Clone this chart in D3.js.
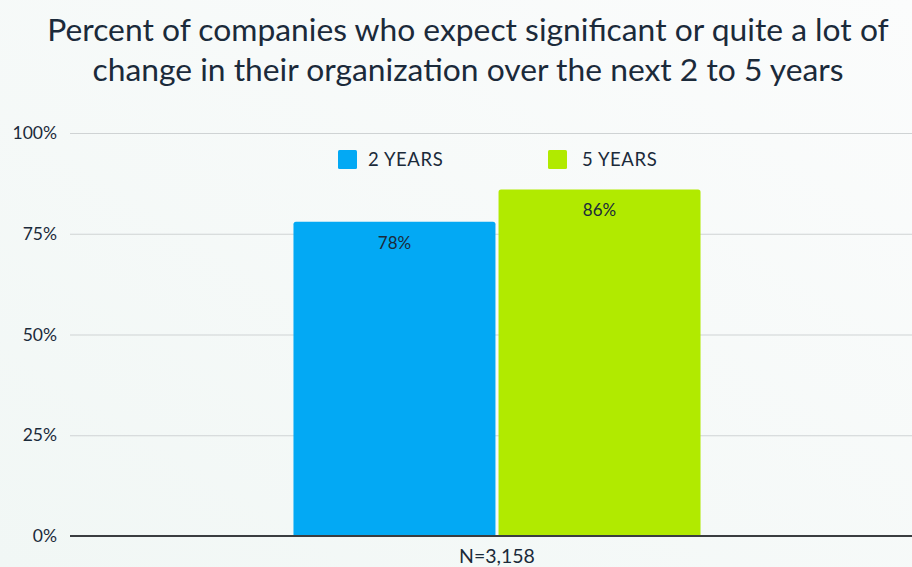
<!DOCTYPE html>
<html>
<head>
<meta charset="utf-8">
<script src="https://cdn.jsdelivr.net/npm/d3@7"></script>
<style>
  html, body { margin: 0; padding: 0; }
  body { width: 912px; height: 567px; overflow: hidden; }
  svg { display: block; font-family: Lato, "Open Sans", sans-serif; }
</style>
</head>
<body>
<svg id="chart" width="912" height="567"></svg>
<script>
// Chart data
const categories = ["N=3,158"];
const seriesNames = ["2 YEARS", "5 YEARS"];
const seriesValues = [[78], [86]];   // percent, per series, per category
const seriesColors = ["#03a9f4", "#b1ea00"];
const yTicks = [0, 25, 50, 75, 100];
const titleLines = [
  "Percent of companies who expect significant or quite a lot of",
  "change in their organization over the next 2 to 5 years"
];

const W = 912, H = 567;
const margin = { left: 70, right: -12, top: 133, bottom: 31 };
const textColor = "#1b2a3a";

const svg = d3.select("#chart");

// soft background wash
const defs = svg.append("defs");
const grad = defs.append("linearGradient").attr("id", "bg").attr("x1", 0).attr("y1", 1).attr("x2", 1).attr("y2", 0);
grad.append("stop").attr("offset", "0%").attr("stop-color", "#f1f7f5");
grad.append("stop").attr("offset", "100%").attr("stop-color", "#fbfcfc");
svg.append("rect").attr("width", W).attr("height", H).attr("fill", "url(#bg)");

// title
svg.append("g").selectAll("text").data(titleLines).join("text")
  .attr("x", 468).attr("y", (d, i) => 41 + i * 40)
  .attr("text-anchor", "middle")
  .attr("font-size", 31.8).attr("font-weight", 400)
  .attr("fill", textColor)
  .text(d => d);

const x0 = d3.scaleBand().domain(categories)
  .range([margin.left, W - margin.right]).paddingInner(0).paddingOuter(0.549);
const x1 = d3.scaleBand().domain(seriesNames.map((d, i) => i))
  .range([0, x0.bandwidth()]).paddingInner(0.015);
const y = d3.scaleLinear().domain([0, 100]).range([H - margin.bottom, margin.top]);

// gridlines + y labels
const yAxis = d3.axisLeft(y).tickValues(yTicks).tickFormat(d => d + "%")
  .tickSize(-(W - margin.left)).tickPadding(13);
const ga = svg.append("g").attr("transform", `translate(${margin.left},0)`).call(yAxis);
ga.select(".domain").remove();
ga.selectAll(".tick line").attr("stroke", "#cfd3d4").attr("stroke-width", 1);
ga.selectAll(".tick text").attr("fill", textColor).attr("font-size", 17.5)
  .attr("font-family", "Lato, sans-serif");

// bars
const groups = svg.append("g").selectAll("g").data(categories).join("g")
  .attr("transform", d => `translate(${x0(d)},0)`);
groups.each(function(cat, ci) {
  const g = d3.select(this);
  seriesNames.forEach((s, si) => {
    const v = seriesValues[si][ci];
    g.append("path")
      .attr("d", () => {
        const bx = x1(si), bw = x1.bandwidth(), by = y(v), bh = y(0) - y(v), r = 2.5;
        return `M${bx},${by + bh}V${by + r}Q${bx},${by} ${bx + r},${by}H${bx + bw - r}Q${bx + bw},${by} ${bx + bw},${by + r}V${by + bh}Z`;
      })
      .attr("fill", seriesColors[si]);
    g.append("text")
      .attr("x", x1(si) + x1.bandwidth() / 2)
      .attr("y", y(v) + 27)
      .attr("text-anchor", "middle")
      .attr("font-size", 17)
      .attr("fill", textColor)
      .text(v + "%");
  });
});

// baseline
svg.append("line")
  .attr("x1", margin.left).attr("x2", W)
  .attr("y1", y(0)).attr("y2", y(0))
  .attr("stroke", "#3a3d40").attr("stroke-width", 2);

// category label
svg.append("g").selectAll("text").data(categories).join("text")
  .attr("x", d => x0(d) + x0.bandwidth() / 2)
  .attr("y", y(0) + 27)
  .attr("text-anchor", "middle")
  .attr("font-size", 19.5)
  .attr("fill", textColor)
  .text(d => d);

// legend
const legendX = [338, 548];
const leg = svg.append("g").selectAll("g").data(seriesNames).join("g")
  .attr("transform", (d, i) => `translate(${legendX[i]},150)`);
leg.append("rect").attr("width", 19).attr("height", 19).attr("rx", 1.5)
  .attr("fill", (d, i) => seriesColors[i]);
leg.append("text").attr("x", (d, i) => i === 0 ? 30 : 34).attr("y", 16)
  .attr("font-size", 18.5).attr("letter-spacing", 0.6)
  .attr("fill", textColor).text(d => d);
</script>
</body>
</html>
